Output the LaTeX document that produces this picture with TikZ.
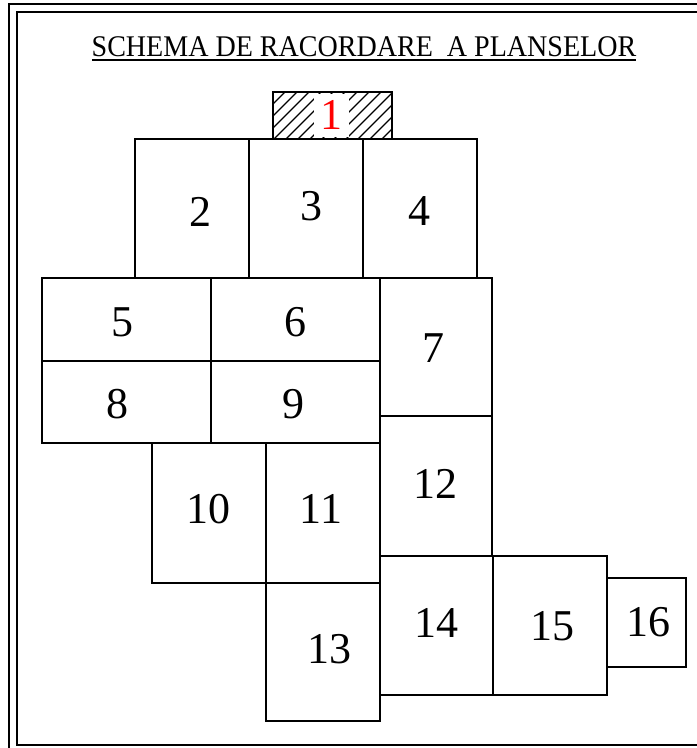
\documentclass[tikz,border=0pt]{standalone}
\usepackage{fontspec}
\setmainfont{Liberation Serif}
\begin{document}
\begin{tikzpicture}[x=1pt,y=-1pt,
  plate/.style={draw=black,line width=1.4pt},
  lbl/.style={font=\fontsize{44}{44}\selectfont,inner sep=0pt,anchor=center},
  hatchline/.style={line width=1.1pt}]
\useasboundingbox (0,0) rectangle (697,748);
% frame
\draw[line width=2pt] (9,752) -- (9,4) -- (700,4);
\draw[line width=1.5pt] (700,12) -- (17,12) -- (17,745) -- (700,745);
% title
\node[font=\fontsize{30}{30}\selectfont,inner sep=0pt,anchor=base] (title) at (364,56) {\scalebox{0.935}[1]{SCHEMA DE RACORDARE\ \ A PLANSELOR}};
\draw[line width=1.5pt] (92,60) -- (636,60);
% plate 1 hatched
\begin{scope}
\clip (273,92) rectangle (392,139);
\foreach \c in {365,377,...,545}{
  \draw[hatchline] (\c-139,139) -- (\c-92,92);
}
\fill[white] (314,94) rectangle (349,137);
\end{scope}
\draw[plate] (273,92) rectangle (392,139);
\node[lbl,text=red] (n1) at (331,115) {1};
% plates
\draw[plate] (135,139) rectangle (249,278);
\draw[plate] (249,139) rectangle (363,278);
\draw[plate] (363,139) rectangle (477,278);
\draw[plate] (42,278) rectangle (211,361);
\draw[plate] (211,278) rectangle (380,361);
\draw[plate] (380,278) rectangle (492,416);
\draw[plate] (42,361) rectangle (211,443);
\draw[plate] (211,361) rectangle (380,443);
\draw[plate] (152,443) rectangle (266,583);
\draw[plate] (266,443) rectangle (380,583);
\draw[plate] (380,416) rectangle (492,556);
\draw[plate] (266,583) rectangle (380,721);
\draw[plate] (380,556) rectangle (493,695);
\draw[plate] (493,556) rectangle (607,695);
\draw[plate] (607,578) rectangle (686,667);
% labels
\node[lbl] (n2) at (200,212) {2};
\node[lbl] (n3) at (311,206) {3};
\node[lbl] (n4) at (419,211) {4};
\node[lbl] (n5) at (122,322) {5};
\node[lbl] (n6) at (295,322) {6};
\node[lbl] (n7) at (433,348) {7};
\node[lbl] (n8) at (117,404) {8};
\node[lbl] (n9) at (293,404) {9};
\node[lbl] (n10) at (208,509) {10};
\node[lbl] (n11) at (321,509) {11};
\node[lbl] (n12) at (435,484) {12};
\node[lbl] (n13) at (329,649) {13};
\node[lbl] (n14) at (436,623) {14};
\node[lbl] (n15) at (552,626) {15};
\node[lbl] (n16) at (648,622) {16};
\end{tikzpicture}
\end{document}
